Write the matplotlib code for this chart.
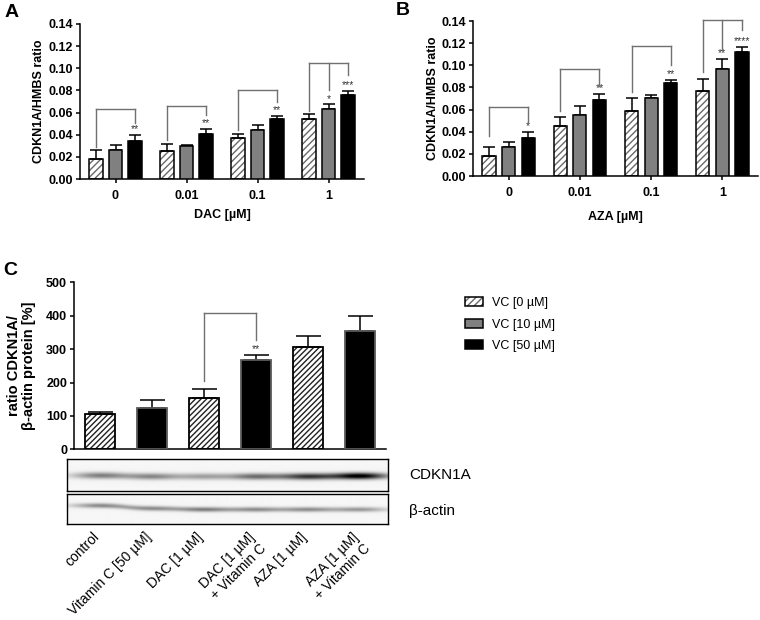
import numpy as np
import matplotlib
matplotlib.use('Agg')
import matplotlib.pyplot as plt
from matplotlib.patches import Patch
from matplotlib.legend_handler import HandlerTuple
import matplotlib.transforms as mtransforms

plt.rcParams['font.family'] = ['Liberation Sans', 'DejaVu Sans']

# ---------------- data ----------------
dac_groups = ['0', '0.01', '0.1', '1']
dac_vc0 = [0.018, 0.025, 0.037, 0.054]
dac_vc0_err = [0.008, 0.007, 0.004, 0.005]
dac_vc10 = [0.026, 0.030, 0.044, 0.0635]
dac_vc10_err = [0.005, 0.001, 0.005, 0.004]
dac_vc50 = [0.034, 0.041, 0.054, 0.0756]
dac_vc50_err = [0.006, 0.004, 0.003, 0.004]
dac_bracket_top = [0.063, 0.066, 0.080, 0.1045]
dac_leg_vc0 = [0.029, 0.035, 0.044, 0.061]
dac_leg_vc10 = [None, None, None, 0.080]
dac_leg_vc50 = [0.051, 0.058, 0.070, 0.094]
dac_star_vc10 = ['', '', '', '*']
dac_star_vc50 = ['**', '**', '**', '***']

aza_groups = ['0', '0.01', '0.1', '1']
aza_vc0 = [0.018, 0.0455, 0.059, 0.0768]
aza_vc0_err = [0.008, 0.0075, 0.0115, 0.0108]
aza_vc10 = [0.026, 0.0555, 0.0705, 0.097]
aza_vc10_err = [0.005, 0.008, 0.0025, 0.009]
aza_vc50 = [0.034, 0.0686, 0.084, 0.112]
aza_vc50_err = [0.006, 0.0054, 0.003, 0.0043]
aza_bracket_top = [0.062, 0.0965, 0.117, 0.1405]
aza_leg_vc0 = [0.036, 0.059, 0.076, 0.094]
aza_leg_vc10 = [None, None, None, 0.1138]
aza_leg_vc50 = [0.049, 0.0815, 0.100, 0.132]
aza_star_vc10 = ['', '', '', '**']
aza_star_vc50 = ['*', '**', '**', '****']

c_labels = ['control', 'Vitamin C [50 µM]', 'DAC [1 µM]',
            'DAC [1 µM]\n+ Vitamin C', 'AZA [1 µM]', 'AZA [1 µM]\n+ Vitamin C']
c_values = [107, 124, 154, 267, 306, 353]
c_err = [6, 25, 28, 15, 32, 47]
c_vc = [0, 50, 0, 50, 0, 50]
c_bracket_pair = (2, 3)
c_bracket_top = 407
c_bracket_legs = (205, 328)
c_bracket_star = '**'

cdkn1a_band = [0.46, 0.42, 0.32, 0.52, 0.74, 1.0]
cdkn1a_shift = [-1.0, 0, 0, 0, 0, -0.5]
actin_band = [0.42, 0.40, 0.46, 0.40, 0.40, 0.36]
actin_shift = [-4.0, -1.0, 0, 0, 0, 0]

legend_labels = ['VC [0 µM]', 'VC [10 µM]', 'VC [50 µM]']

# ---------------- figure ----------------
W, H = 760, 620
fig = plt.figure(figsize=(7.6, 6.2), dpi=100)

def ax_px(l, t, r, b):
    return fig.add_axes([l / W, 1 - b / H, (r - l) / W, (b - t) / H])

axA = ax_px(80, 24, 364, 179)
axB = ax_px(473, 21, 758, 176)
axC = ax_px(74, 282.3, 386, 449.3)
axW1 = ax_px(67, 459, 388, 491)
axW2 = ax_px(67, 494, 388, 524)

HATCH_GRAY = '#6a6a6a'
GRAY = '#808080'
BR = '#707070'
LW = 1.1
TICK_FS = 9
STAR_FS = 7.5

def style_axes(ax):
    for s in ['top', 'right']:
        ax.spines[s].set_visible(False)
    for s in ['left', 'bottom']:
        ax.spines[s].set_linewidth(LW)

def grouped(ax, groups, vals, errs, btop, legs, stars, ylabel, xlabel, ylabx, xlaby):
    x = np.arange(len(groups))
    off, w = 0.275, 0.185
    for k, (v, e) in enumerate(zip(vals, errs)):
        xs = x + (k - 1) * off
        if k == 0:
            ax.bar(xs, v, w, color='white', edgecolor=HATCH_GRAY, hatch='/////', linewidth=0, zorder=2)
            ax.bar(xs, v, w, fill=False, edgecolor='black', linewidth=LW, zorder=3)
        elif k == 1:
            ax.bar(xs, v, w, color=GRAY, edgecolor='black', linewidth=LW, zorder=3)
        else:
            ax.bar(xs, v, w, color='black', edgecolor='black', linewidth=LW, zorder=3)
        ax.errorbar(xs, v, yerr=[np.zeros(len(v)), e], fmt='none', ecolor='black',
                    elinewidth=LW, capsize=4.5, capthick=LW, zorder=2.5)
    for g in range(len(groups)):
        pts = [(x[g] + (k - 1) * off, legs[k][g]) for k in range(3) if legs[k][g] is not None]
        top = btop[g]
        ax.plot([pts[0][0], pts[-1][0]], [top, top], color=BR, lw=1.0, clip_on=False, zorder=4)
        for xx, yy in pts:
            ax.plot([xx, xx], [yy, top], color=BR, lw=1.0, clip_on=False, zorder=4)
        for k in (1, 2):
            s = stars[k - 1][g]
            if s:
                ytop = vals[k][g] + errs[k][g]
                ax.text(x[g] + (k - 1) * off, ytop + 0.0006, s, ha='center', va='bottom',
                        fontsize=STAR_FS, color='#333333')
    ax.set_xlim(-0.5, len(groups) - 0.5)
    ax.set_ylim(0, 0.14)
    ax.set_yticks(np.arange(0, 0.1401, 0.02))
    ax.set_yticklabels(['%.2f' % t for t in np.arange(0, 0.1401, 0.02)])
    ax.set_xticks(x)
    ax.set_xticklabels(groups)
    ax.tick_params(axis='both', length=3, width=LW, labelsize=TICK_FS)
    ax.tick_params(axis='x', pad=5)
    ax.tick_params(axis='y', pad=2)
    for lab in ax.get_xticklabels() + ax.get_yticklabels():
        lab.set_fontweight('bold')
    ax.set_ylabel(ylabel, fontsize=9, fontweight='bold')
    ax.yaxis.set_label_coords(ylabx, 0.5)
    ax.set_xlabel(xlabel, fontsize=9, fontweight='bold')
    ax.xaxis.set_label_coords(0.5, xlaby)
    style_axes(ax)

grouped(axA, dac_groups, [dac_vc0, dac_vc10, dac_vc50],
        [dac_vc0_err, dac_vc10_err, dac_vc50_err], dac_bracket_top,
        [dac_leg_vc0, dac_leg_vc10, dac_leg_vc50], [dac_star_vc10, dac_star_vc50],
        'CDKN1A/HMBS ratio', 'DAC [µM]', -0.123, -0.194)
grouped(axB, aza_groups, [aza_vc0, aza_vc10, aza_vc50],
        [aza_vc0_err, aza_vc10_err, aza_vc50_err], aza_bracket_top,
        [aza_leg_vc0, aza_leg_vc10, aza_leg_vc50], [aza_star_vc10, aza_star_vc50],
        'CDKN1A/HMBS ratio', 'AZA [µM]', -0.119, -0.224)

# ---------------- panel C ----------------
xc = np.arange(len(c_values))
wc = 0.56
for i in range(len(c_values)):
    if c_vc[i] == 0:
        axC.bar(xc[i], c_values[i], wc, color='white', edgecolor='#222222', hatch='//////', linewidth=0, zorder=2)
        axC.bar(xc[i], c_values[i], wc, fill=False, edgecolor='black', linewidth=1.3, zorder=3)
    else:
        axC.bar(xc[i], c_values[i], wc, color='black', edgecolor='#5a5a5a', linewidth=1.3, zorder=3)
axC.errorbar(xc, c_values, yerr=[np.zeros(len(c_values)), c_err], fmt='none', ecolor='black',
             elinewidth=LW, capsize=9, capthick=LW, zorder=2.5)
i0, i1 = c_bracket_pair
axC.plot([i0, i0], [c_bracket_legs[0], c_bracket_top], color=BR, lw=1.0)
axC.plot([i0, i1], [c_bracket_top, c_bracket_top], color=BR, lw=1.0)
axC.plot([i1, i1], [c_bracket_legs[1], c_bracket_top], color=BR, lw=1.0)
axC.text(i1, c_values[i1] + c_err[i1] + 3, c_bracket_star, ha='center', va='bottom',
         fontsize=STAR_FS, color='#333333')
axC.set_xlim(-0.5, len(c_values) - 0.5)
axC.set_ylim(0, 500)
axC.set_yticks(np.arange(0, 501, 100))
axC.set_xticks([])
axC.tick_params(axis='y', length=3, width=LW, labelsize=TICK_FS, pad=2)
for lab in axC.get_yticklabels():
    lab.set_fontweight('bold')
axC.set_ylabel('ratio CDKN1A/\nβ-actin protein [%]', fontsize=10.5, fontweight='bold',
               linespacing=1.05)
axC.yaxis.set_label_coords(-0.122, 0.5)
style_axes(axC)

# legend
h0 = (Patch(facecolor='white', edgecolor=HATCH_GRAY, hatch='/////', linewidth=0),
      Patch(fill=False, edgecolor='black', linewidth=LW))
h1 = Patch(facecolor=GRAY, edgecolor='black', linewidth=LW)
h2 = Patch(facecolor='black', edgecolor='black', linewidth=LW)
fig.legend([h0, h1, h2], legend_labels, handler_map={tuple: HandlerTuple(ndivide=1, pad=0)},
           loc='upper left', bbox_to_anchor=(465 / W, 1 - 297 / H), frameon=False,
           fontsize=9, handlelength=1.44, handleheight=0.72, handletextpad=0.72,
           labelspacing=0.77, borderpad=0, borderaxespad=0)

# ---------------- western blot ----------------
blot_xlim = (-0.635, 5.54)

def draw_blot(ax, dark, shift, band_y, sig_y, hpx):
    nx, ny = 640, int(hpx * 4)
    xs = np.linspace(blot_xlim[0], blot_xlim[1], nx)
    ys = np.linspace(0, hpx, ny)
    lanes = np.arange(len(dark))
    wts = np.exp(-0.5 * ((xs[None, :] - lanes[:, None]) / 0.38) ** 2)
    D = (np.array(dark)[:, None] * wts).sum(0)
    yc = band_y + (np.array(shift)[:, None] * wts).sum(0) / wts.sum(0)
    prof = np.exp(-0.5 * ((ys[:, None] - yc[None, :]) / sig_y) ** 2)
    img = 1 - np.clip(0.035 + D[None, :] * prof, 0, 1)
    ax.imshow(img, cmap='gray', vmin=0, vmax=1, aspect='auto', interpolation='bilinear',
              extent=(blot_xlim[0], blot_xlim[1], hpx, 0))
    ax.set_xlim(blot_xlim)
    ax.set_ylim(hpx, 0)
    ax.set_xticks([])
    ax.set_yticks([])
    for s in ax.spines.values():
        s.set_linewidth(1.0)

draw_blot(axW1, cdkn1a_band, cdkn1a_shift, 17.5, 2.3, 32)
draw_blot(axW2, actin_band, actin_shift, 15.5, 1.7, 30)

fig.text(409 / W, 1 - 475 / H, 'CDKN1A', fontsize=11, va='center', ha='left')
fig.text(409 / W, 1 - 511 / H, 'β-actin', fontsize=11, va='center', ha='left')

lab_tr = mtransforms.blended_transform_factory(axW2.transData, axW2.transAxes) + \
    mtransforms.ScaledTranslation(-0.08, -0.06, fig.dpi_scale_trans)
for i, lab in enumerate(c_labels):
    axW2.text(i, 0, lab, transform=lab_tr, rotation=45, rotation_mode='anchor',
              ha='right', va='top', fontsize=10)

# panel letters
fig.text(5 / W, 1 - 4 / H, 'A', fontsize=14, fontweight='bold', va='top', ha='left')
fig.text(396 / W, 1 - 2 / H, 'B', fontsize=14, fontweight='bold', va='top', ha='left')
fig.text(3 / W, 1 - 262 / H, 'C', fontsize=14, fontweight='bold', va='top', ha='left')

fig.savefig('out.png', dpi=100)
